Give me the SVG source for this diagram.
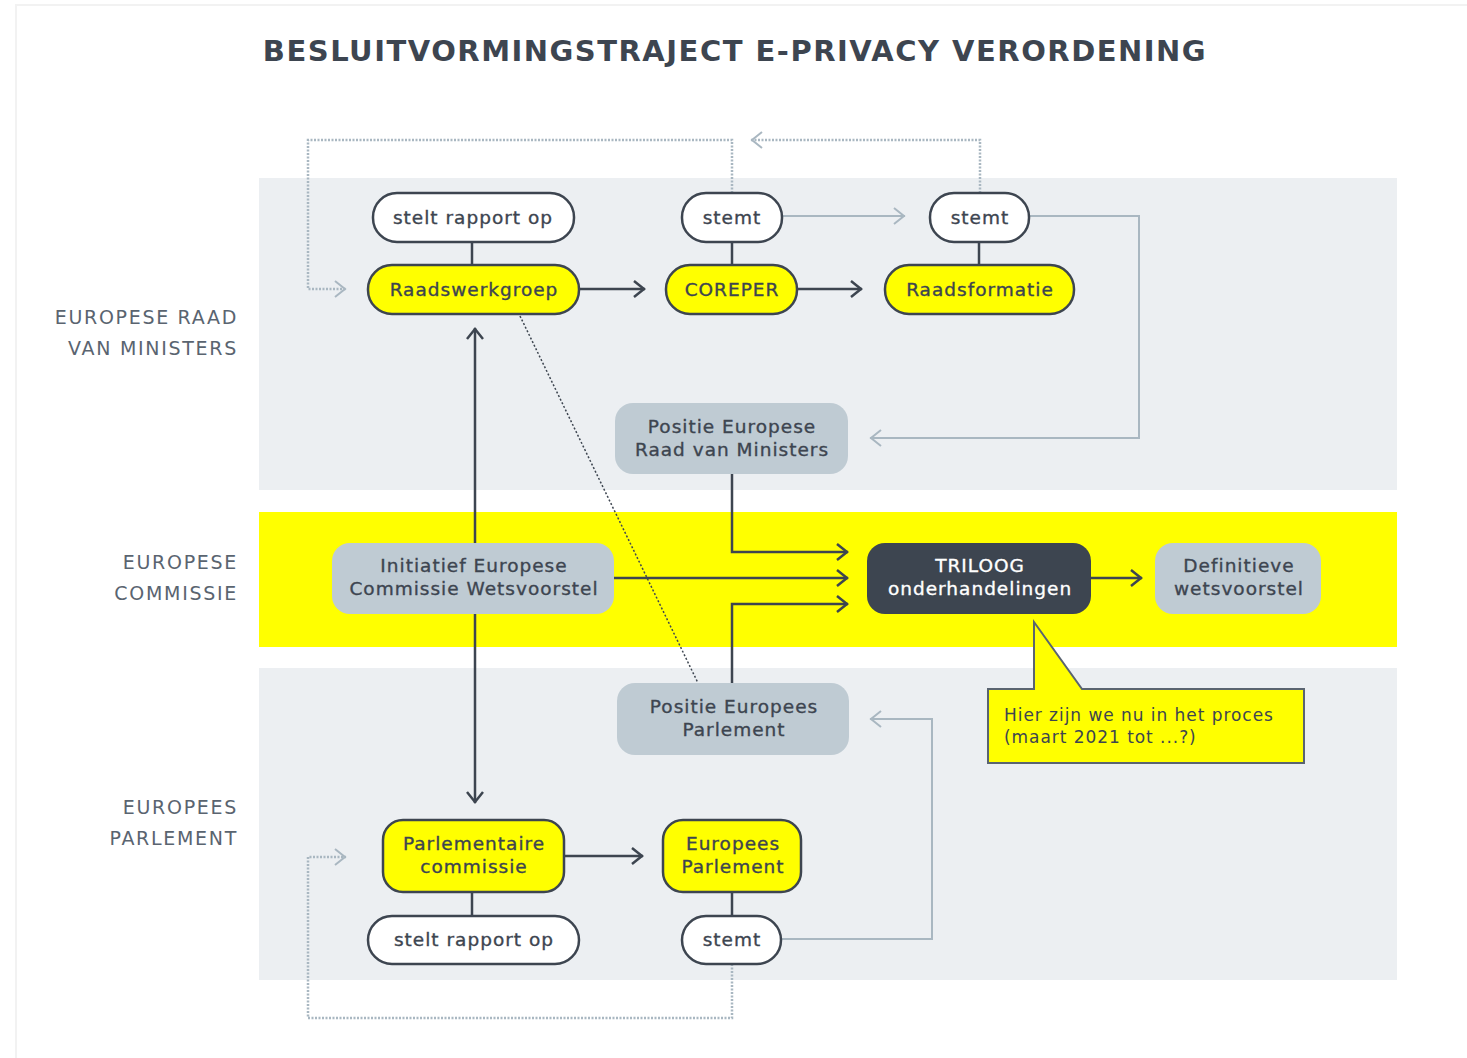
<svg xmlns="http://www.w3.org/2000/svg" width="1467" height="1058" viewBox="0 0 1467 1058">
<defs>
<style>
.t{font-family:"DejaVu Sans",sans-serif;font-size:18.5px;fill:#3d4550;text-anchor:middle;stroke:#3d4550;stroke-width:0.35;letter-spacing:1px}
.w{fill:#ffffff;stroke:#ffffff}
.lab{font-family:"DejaVu Sans",sans-serif;font-size:19px;fill:#5a6470;text-anchor:end;letter-spacing:1.7px}
.pill{fill:#ffffff;stroke:#3d4550;stroke-width:2.5}
.ypill{fill:#ffff00;stroke:#3d4550;stroke-width:2.5}
.gbox{fill:#bfcbd3}
.dk{fill:none;stroke:#3d4550;stroke-width:2.5}
.lt{fill:none;stroke:#a9b7c1;stroke-width:2}
.dot{fill:none;stroke:#a9b7c1;stroke-width:2.5;stroke-dasharray:2 1.5}
.thin{fill:none;stroke:#3d4550;stroke-width:1.5;stroke-dasharray:2 2}
.ct{font-family:"DejaVu Sans",sans-serif;font-size:17px;fill:#3d4550;letter-spacing:0.95px}
</style>
<marker id="ad" viewBox="0 0 14 20" refX="13" refY="10" markerWidth="14" markerHeight="20" markerUnits="userSpaceOnUse" orient="auto-start-reverse"><path d="M2,2 L12,10 L2,18" fill="none" stroke="#3d4550" stroke-width="2.5"/></marker>
<marker id="al" viewBox="0 0 14 20" refX="13" refY="10" markerWidth="14" markerHeight="20" markerUnits="userSpaceOnUse" orient="auto"><path d="M2,2 L12,10 L2,18" fill="none" stroke="#a9b7c1" stroke-width="2"/></marker>
</defs>
<rect x="0" y="0" width="1467" height="1058" fill="#ffffff"/>
<path d="M16,1058 V5 H1467" fill="none" stroke="#f2f2f2" stroke-width="2"/>
<text x="735" y="61" text-anchor="middle" font-family="'DejaVu Sans',sans-serif" font-weight="bold" font-size="29" letter-spacing="1.5" fill="#3d4550">BESLUITVORMINGSTRAJECT E-PRIVACY VERORDENING</text>

<rect x="259" y="178" width="1138" height="312" fill="#eceff2"/>
<rect x="259" y="512" width="1138" height="135" fill="#ffff00"/>
<rect x="259" y="668" width="1138" height="312" fill="#eceff2"/>

<g id="labels">
<text class="lab" x="238" y="324">EUROPESE RAAD</text>
<text class="lab" x="238" y="355">VAN MINISTERS</text>
<text class="lab" x="238" y="569">EUROPESE</text>
<text class="lab" x="238" y="600">COMMISSIE</text>
<text class="lab" x="238" y="814">EUROPEES</text>
<text class="lab" x="238" y="845">PARLEMENT</text>
</g>

<g id="connectors">
<path class="dk" d="M472,242 V265"/>
<path class="dk" d="M732,242 V265"/>
<path class="dk" d="M979,242 V265"/>
<path class="dk" d="M579,289 H645" marker-end="url(#ad)"/>
<path class="dk" d="M797,289 H862" marker-end="url(#ad)"/>
<path class="lt" d="M782,216 H905" marker-end="url(#al)"/>
<path class="lt" d="M1029,216 H1139 V438 H870" marker-end="url(#al)"/>
<path class="dot" d="M732,193 V140 H308 V289 H346" marker-end="url(#al)"/>
<path class="dot" d="M980,193 V140 H751" marker-end="url(#al)"/>
<path class="dk" d="M475,328 V803" marker-start="url(#ad)" marker-end="url(#ad)"/>
<path class="thin" d="M520,316 L698,683"/>
<path class="dk" d="M732,474 V552 H848" marker-end="url(#ad)"/>
<path class="dk" d="M614,578 H848" marker-end="url(#ad)"/>
<path class="dk" d="M732,683 V604 H848" marker-end="url(#ad)"/>
<path class="dk" d="M1091,578 H1142" marker-end="url(#ad)"/>
<path class="dk" d="M564,856 H643" marker-end="url(#ad)"/>
<path class="dk" d="M472,892 V916"/>
<path class="dk" d="M732,892 V916"/>
<path class="lt" d="M781,939 H932 V719 H870" marker-end="url(#al)"/>
<path class="dot" d="M732,964 V1018 H308 V857 H346" marker-end="url(#al)"/>
</g>

<g id="n-rapport1"><rect class="pill" x="373" y="193" width="201" height="49" rx="24"/><text class="t" x="473" y="224">stelt rapport op</text></g>
<g id="n-raadswerkgroep"><rect class="ypill" x="368" y="265" width="211" height="49" rx="24"/><text class="t" x="474" y="296">Raadswerkgroep</text></g>
<g id="n-stemt1"><rect class="pill" x="682" y="193" width="100" height="49" rx="24"/><text class="t" x="732" y="224">stemt</text></g>
<g id="n-coreper"><rect class="ypill" x="666" y="265" width="131" height="49" rx="24"/><text class="t" x="732" y="296">COREPER</text></g>
<g id="n-stemt2"><rect class="pill" x="930" y="193" width="99" height="49" rx="24"/><text class="t" x="980" y="224">stemt</text></g>
<g id="n-raadsformatie"><rect class="ypill" x="885" y="265" width="189" height="49" rx="24"/><text class="t" x="980" y="296">Raadsformatie</text></g>
<g id="n-positie-raad"><rect class="gbox" x="615" y="403" width="233" height="71" rx="18"/><text class="t" x="732" y="433">Positie Europese</text><text class="t" x="732" y="456">Raad van Ministers</text></g>
<g id="n-initiatief"><rect class="gbox" x="332" y="543" width="282" height="71" rx="18"/><text class="t" x="474" y="572">Initiatief Europese</text><text class="t" x="474" y="595">Commissie Wetsvoorstel</text></g>
<g id="n-triloog"><rect x="867" y="543" width="224" height="71" rx="18" fill="#3d4550"/><text class="t w" x="980" y="572">TRILOOG</text><text class="t w" x="980" y="595">onderhandelingen</text></g>
<g id="n-definitief"><rect class="gbox" x="1155" y="543" width="166" height="71" rx="18"/><text class="t" x="1239" y="572">Definitieve</text><text class="t" x="1239" y="595">wetsvoorstel</text></g>
<g id="n-positie-parlement"><rect class="gbox" x="617" y="683" width="232" height="72" rx="18"/><text class="t" x="734" y="713">Positie Europees</text><text class="t" x="734" y="736">Parlement</text></g>
<g id="n-callout"><path d="M988,689 H1034 V622 L1082,689 H1304 V763 H988 Z" fill="#ffff00" stroke="#5a6470" stroke-width="2"/><text class="ct" x="1004" y="721">Hier zijn we nu in het proces</text><text class="ct" x="1004" y="743">(maart 2021 tot ...?)</text></g>
<g id="n-parlcommissie"><rect class="ypill" x="383" y="820" width="181" height="72" rx="20"/><text class="t" x="474" y="850">Parlementaire</text><text class="t" x="474" y="873">commissie</text></g>
<g id="n-europeesparlement"><rect class="ypill" x="663" y="820" width="138" height="72" rx="20"/><text class="t" x="733" y="850">Europees</text><text class="t" x="733" y="873">Parlement</text></g>
<g id="n-rapport2"><rect class="pill" x="368" y="916" width="211" height="48" rx="24"/><text class="t" x="474" y="946">stelt rapport op</text></g>
<g id="n-stemt3"><rect class="pill" x="682" y="916" width="99" height="48" rx="24"/><text class="t" x="732" y="946">stemt</text></g>
</svg>
